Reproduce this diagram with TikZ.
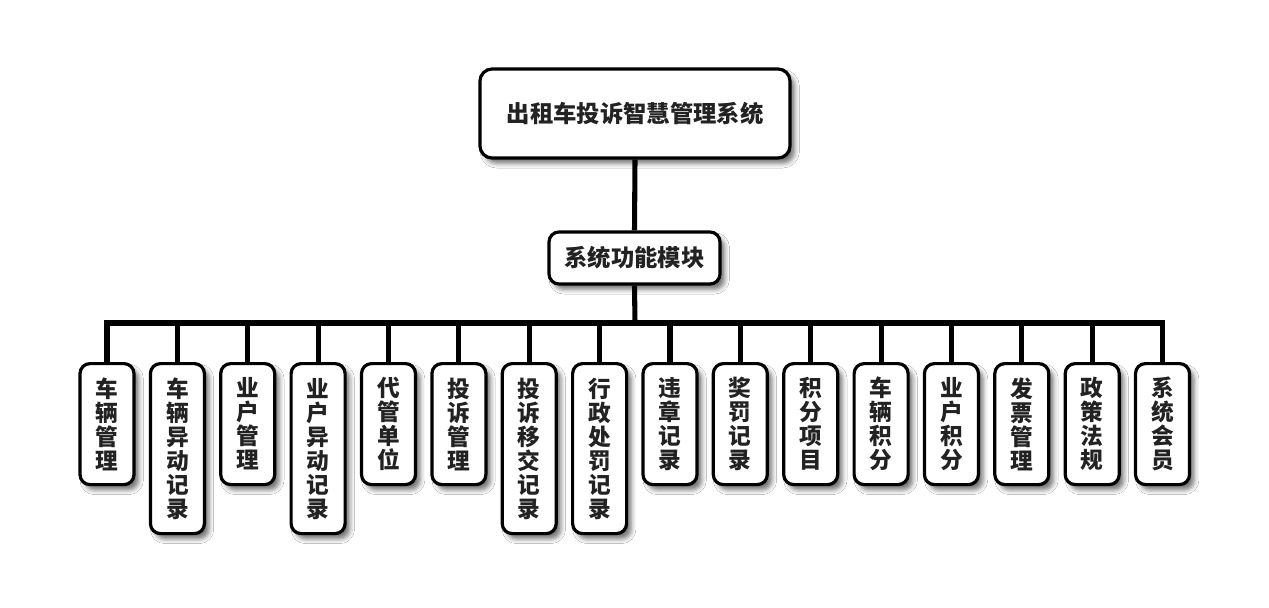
\documentclass[tikz,border=0pt]{standalone}
\usepackage{fontspec}
\newfontfamily\cjk{Noto Sans CJK SC}
\usetikzlibrary{shadows.blur}
\definecolor{txt}{HTML}{222222}
\tikzset{
  box/.style={draw=black, line width=2.4pt, fill=white, rounded corners=7.5pt,
    text=txt, inner sep=0pt, align=center,
    blur shadow={shadow xshift=3.5pt, shadow yshift=-4pt, shadow blur radius=3.5pt, shadow opacity=55}},
  leaf/.style={box, anchor=north, minimum width=40.5pt, font=\cjk\bfseries\fontsize{17}{18}\selectfont},
  leaf4/.style={leaf, minimum height=90.75pt},
  leaf6/.style={leaf, minimum height=127.5pt},
  conn/.style={line width=3.8pt, draw=black},
}
\begin{document}
\begin{tikzpicture}[x=0.75pt, y=-0.75pt]
\useasboundingbox (0,0) rectangle (1269,607);
\fill[white] (0,0) rectangle (1269,607);
% main
\node[box, minimum width=232.5pt, minimum height=66.75pt, rounded corners=9pt, font=\cjk\bfseries\fontsize{17.5}{20}\selectfont] (top) at (635,113.5) {出租车投诉智慧管理系统};
\node[box, minimum width=128.25pt, minimum height=39pt, font=\cjk\bfseries\fontsize{17.5}{20}\selectfont] (mid) at (634.5,258) {系统功能模块};
\coordinate (j) at (635,323);
% leaves
\node[leaf4] (l1) at (107,362) {车\\辆\\管\\理};
\node[leaf6] (l2) at (177.4,362) {车\\辆\\异\\动\\记\\录};
\node[leaf4] (l3) at (247.7,362) {业\\户\\管\\理};
\node[leaf6] (l4) at (318.1,362) {业\\户\\异\\动\\记\\录};
\node[leaf4] (l5) at (388.5,362) {代\\管\\单\\位};
\node[leaf4] (l6) at (458.9,362) {投\\诉\\管\\理};
\node[leaf6] (l7) at (529.2,362) {投\\诉\\移\\交\\记\\录};
\node[leaf6] (l8) at (599.6,362) {行\\政\\处\\罚\\记\\录};
\node[leaf4] (l9) at (670,362) {违\\章\\记\\录};
\node[leaf4] (l10) at (740.3,362) {奖\\罚\\记\\录};
\node[leaf4] (l11) at (810.7,362) {积\\分\\项\\目};
\node[leaf4] (l12) at (881.1,362) {车\\辆\\积\\分};
\node[leaf4] (l13) at (951.4,362) {业\\户\\积\\分};
\node[leaf4] (l14) at (1021.8,362) {发\\票\\管\\理};
\node[leaf4] (l15) at (1092.2,362) {政\\策\\法\\规};
\node[leaf4] (l16) at (1162.5,362) {系\\统\\会\\员};
% connectors
\draw[conn] (top.south) -- (mid.north);
\draw[conn] (mid.south) -- (j);
\foreach \i in {1,...,16} {
  \draw[conn] (j) -| (l\i.north);
}
\end{tikzpicture}
\end{document}
